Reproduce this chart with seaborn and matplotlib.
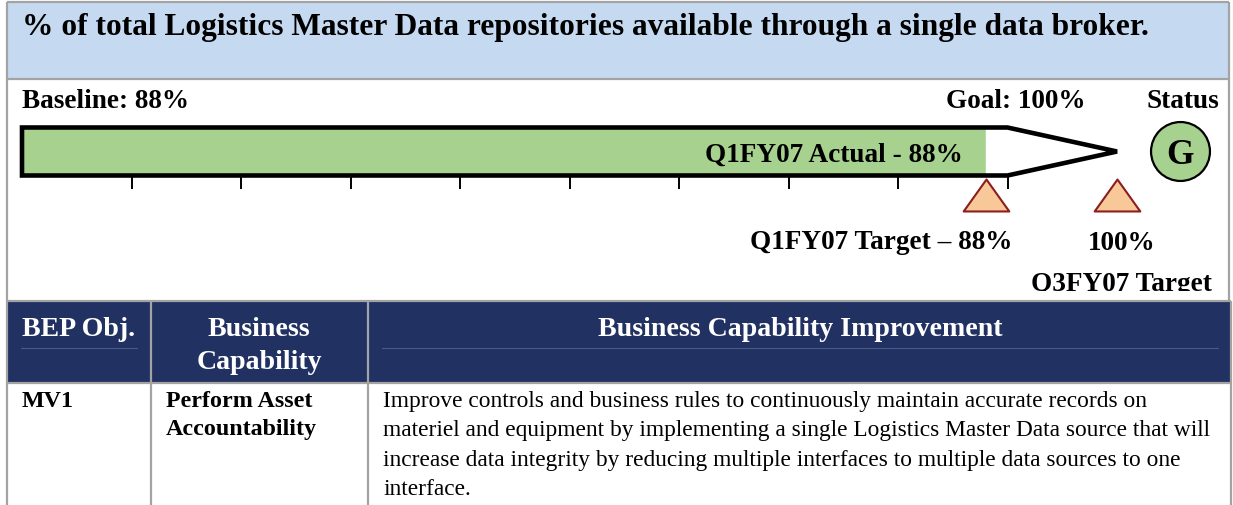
import matplotlib
matplotlib.use("Agg")
import matplotlib.pyplot as plt
import seaborn as sns
import numpy as np
from matplotlib.patches import Rectangle, Polygon
from matplotlib.path import Path
from matplotlib.markers import MarkerStyle

# ---------------- data ----------------
title = "% of total Logistics Master Data repositories available through a single data broker."
baseline_value = 88
goal_value = 100
actual_value = 88
actual_period = "Q1FY07"
target_periods = ["Q1FY07", "Q3FY07"]
target_values = [88, 100]
scale_ticks = [10, 20, 30, 40, 50, 60, 70, 80, 90]
status = "G"
table_headers = ["BEP Obj.", "Business\nCapability", "Business Capability Improvement"]
bep_objective = "MV1"
business_capability = ["Perform Asset", "Accountability"]
improvement_lines = [
    "Improve controls and business rules to continuously maintain accurate records on",
    "materiel and equipment by implementing a single Logistics Master Data source that will",
    "increase data integrity by reducing multiple interfaces to multiple data sources to one",
    "interface.",
]

# ---------------- style ----------------
sns.set_theme(style="white")
plt.rcParams["font.family"] = ["Liberation Serif", "DejaVu Serif"]

GREEN = "#A7D18F"
NAVY = "#213162"
LIGHT_BLUE = "#C5D9F0"
GRAY = "#A3A3A3"
TRI_FILL = "#F9C898"
TRI_EDGE = "#8B1E1E"

W, H = 1233, 506
fig = plt.figure(figsize=(W / 100, H / 100), dpi=100)
renderer = fig.canvas.get_renderer()

# layout axes in pixel units
lax = fig.add_axes([0, 0, 1, 1], zorder=1)
lax.set_xlim(0, W)
lax.set_ylim(H, 0)
lax.axis("off")

# gauge axes: x in percent, y in pixels
PX0, PXPER = 22.0, 10.95
gax = fig.add_axes([0, 0, 1, 1], zorder=2)
gax.patch.set_alpha(0)


def fit(t, width, boost=1.0):
    bb = t.get_window_extent(renderer)
    t.set_fontsize(t.get_fontsize() * width / bb.width * boost)
    return t.get_fontsize()


# ---------- background boxes ----------
lax.add_patch(Rectangle((7, 3), 1222, 77, facecolor=LIGHT_BLUE, edgecolor="none"))
lax.add_patch(Rectangle((7, 303), 1224, 80, facecolor=NAVY, edgecolor="none"))
line_kw = dict(color=GRAY, lw=1.6, solid_capstyle="butt")
lax.plot([7, 1229], [3, 3], **line_kw)
lax.plot([7, 1229], [80, 80], **line_kw)
lax.plot([7, 7], [3, H], **line_kw)
lax.plot([1229, 1229], [3, 302], **line_kw)
lax.plot([1231, 1231], [302, H], **line_kw)
lax.plot([7, 1231], [302, 302], **line_kw)
lax.plot([7, 1231], [384, 384], **line_kw)
for xc in (151, 368):
    lax.plot([xc, xc], [302, H], **line_kw)
lax.plot([21, 137], [349, 349], color="#4A5B8A", lw=0.8)
lax.plot([382, 1218], [349, 349], color="#4A5B8A", lw=0.8)

# ---------- title row ----------
t = lax.text(22, 35, title, fontsize=19, fontweight="bold", color="black", va="baseline")
fit(t, 1090, 1.03)

bold_kw = dict(fontweight="bold", color="black", va="baseline")
tb = lax.text(22, 108, f"Baseline: {baseline_value}%", fontsize=16, **bold_kw)
fs_lab = fit(tb, 161, 1.04)
lax.text(1085, 108, f"Goal: {goal_value}%", fontsize=fs_lab, ha="right", **bold_kw)
lax.text(1219, 108, "Status", fontsize=fs_lab, ha="right", **bold_kw)

# ---------- gauge ----------
sns.barplot(x=[actual_value], y=[152.5], orient="h", native_scale=True, width=48,
            color=GREEN, saturation=1, errorbar=None, ax=gax, zorder=2)
shoulder = scale_ticks[-1]
frame = Polygon([[0, 128.5], [shoulder, 128.5], [goal_value, 152.5],
                 [shoulder, 176.5], [0, 176.5]], closed=True, fill=False,
                edgecolor="black", lw=3.3, joinstyle="miter", zorder=3)
gax.add_patch(frame)
gax.vlines(scale_ticks, 178, 190, color="black", lw=1.4, zorder=3)

tri = MarkerStyle(Path([(0, 0.7), (-1, -0.7), (1, -0.7), (0, 0.7)], closed=True))
sns.scatterplot(x=target_values, y=[196] * len(target_values), marker=tri, s=1080,
                color=TRI_FILL, edgecolor=TRI_EDGE, linewidth=1.5, ax=gax,
                legend=False, zorder=4)

gax.set_xlim(-PX0 / PXPER, (W - PX0) / PXPER)
gax.set_ylim(H, 0)
gax.axis("off")

gax.text(963, 162, f"{actual_period} Actual - {actual_value}%", fontsize=fs_lab,
         ha="right", transform=lax.transData, zorder=5, **bold_kw)
lax.scatter([1180], [152], s=1800, facecolor=GREEN, edgecolor="black", linewidth=1.6, zorder=3)
lax.text(1180, 163.5, status, fontsize=fs_lab * 1.3, ha="center", zorder=4, **bold_kw)

lax.text(1012, 249, f"{target_periods[0]} Target \u2013 {target_values[0]}%",
         fontsize=fs_lab, ha="right", **bold_kw)
lax.text(1122, 250, f"{target_values[1]}%", fontsize=fs_lab, ha="center", **bold_kw)
tq = lax.text(1121, 291, f"{target_periods[1]} Target", fontsize=fs_lab, ha="center", **bold_kw)
clip = Rectangle((1000, 250), 233, 42, transform=lax.transData)
tq.set_clip_path(clip)
tq.set_clip_on(True)

# ---------- table ----------
hdr_kw = dict(fontweight="bold", color="white", va="baseline", ha="center")
th = lax.text(800, 336, table_headers[2], fontsize=17, **hdr_kw)
fs_hdr = fit(th, 389, 1.04)
lax.text(79, 336, table_headers[0], fontsize=fs_hdr, **hdr_kw)
h1, h2 = table_headers[1].split("\n")
lax.text(259, 336, h1, fontsize=fs_hdr, **hdr_kw)
lax.text(259, 369, h2, fontsize=fs_hdr, **hdr_kw)

tl = lax.text(383, 407, improvement_lines[1], fontsize=15, color="black", va="baseline")
fs_body = fit(tl, 814, 1.02)
tl.set_position((383, 436))
for i, line in enumerate(improvement_lines):
    if i == 1:
        continue
    lax.text(383, 407 + 29.5 * i, line, fontsize=fs_body, color="black", va="baseline")

tc = lax.text(166, 407, business_capability[1], fontsize=14, **bold_kw)
fs_bb = fit(tc, 144, 1.05)
tc.set_position((166, 435))
lax.text(166, 407, business_capability[0], fontsize=fs_bb, **bold_kw)
lax.text(22, 407, bep_objective, fontsize=fs_bb, **bold_kw)

fig.savefig("out.png", dpi=100)
